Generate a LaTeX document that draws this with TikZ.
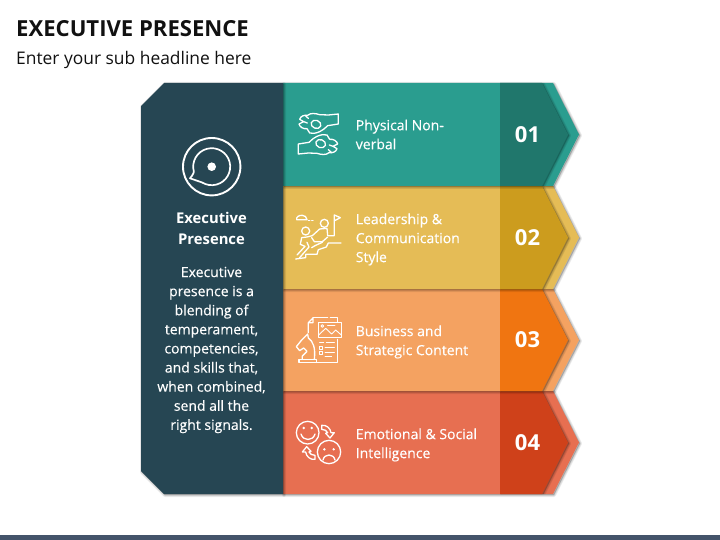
\documentclass[tikz,border=0pt]{standalone}
\usepackage{fontspec}
\setmainfont{Open Sans}
\newfontfamily\semib[FakeBold=0.3]{Open Sans}
\definecolor{panelc}{HTML}{264653}
\definecolor{tealL}{HTML}{2A9D8F}\definecolor{tealD}{HTML}{20776C}
\definecolor{yelL}{HTML}{E5BC56}\definecolor{yelD}{HTML}{CC9C1E}
\definecolor{oraL}{HTML}{F4A261}\definecolor{oraD}{HTML}{F07511}
\definecolor{redL}{HTML}{E76F51}\definecolor{redD}{HTML}{CF411A}
\definecolor{barc}{HTML}{44546A}
\definecolor{titlec}{HTML}{111111}
\tikzset{
  lbl/.style={text=white,anchor=west,align=left,inner sep=0pt,font=\fontsize{14}{19}\semib\selectfont},
  numlbl/.style={text=white,inner sep=0pt,font=\fontsize{22}{24}\bfseries\selectfont},
  paneltxt/.style={text=white,align=center,inner sep=0pt,font=\fontsize{14}{19.1}\semib\selectfont},
  panelhead/.style={text=white,align=center,inner sep=0pt,font=\fontsize{14.8}{21}\bfseries\selectfont},
  ico/.style={draw=white,line width=1.3pt,line join=round,line cap=round},
  thinico/.style={draw=white,line width=0.9pt,line join=round,line cap=round}
}
\newcommand\softshadow[1]{\foreach \w in {4,2.6,1.2}{\draw[black,draw opacity=.07,fill=black,fill opacity=.07,line width=\w pt,line join=round,shift={(1,1)}] #1;}}
\newcommand\rowband[6]{%
  \def\outerp{(283,#1) -- (553,#1) -- (579,{(#1+#2)/2}) -- (553,#2) -- (283,#2) -- cycle}%
  \def\innerp{(500,#1) -- (542,#1) -- (568,{(#1+#2)/2}) -- (542,#2) -- (500,#2) -- cycle}%
  \softshadow{\outerp}
  \fill[#3] \outerp;
  \begin{scope}
    \clip \outerp;
    \clip (500,#1) rectangle (600,#2);
    \softshadow{\innerp}
  \end{scope}
  \fill[#4] \innerp;
  \node[numlbl] (num#6) at (527.5,{(#1+#2)/2}) {#5};
}
\newcommand\handicon{%
  (160,42) -- (160,72) -- (128,77) .. controls (118,86) and (112,92) .. (104,95) .. controls (92,100) and (82,102) .. (74,99) -- (66,86)
  .. controls (54,88) and (44,80) .. (42,72) -- (56,65) -- (44,58) .. controls (46,48) and (60,44) .. (68,46)
  .. controls (76,38) and (92,40) .. (104,44) -- (130,45) -- cycle}
\begin{document}
\begin{tikzpicture}[x=1pt,y=-1pt]
\useasboundingbox (0,0) rectangle (720,540);
\fill[white] (0,0) rectangle (720,540);
\fill[barc] (0,535) rectangle (720,540);
\node[anchor=west,inner sep=0pt,text=titlec,font=\fontsize{22.1}{24}\bfseries\selectfont] (title) at (16,28.7) {EXECUTIVE PRESENCE};
\node[anchor=west,inner sep=0pt,text=titlec,font=\fontsize{17.4}{20}\selectfont] (sub) at (16,60) {Enter your sub headline here};
% rows, bottom one first
\rowband{391}{494}{redL}{redD}{04}{d}
\rowband{289}{391}{oraL}{oraD}{03}{c}
\rowband{186}{289}{yelL}{yelD}{02}{b}
\rowband{83}{186}{tealL}{tealD}{01}{a}
% panel
\def\panelp{(164,83) -- (283,83) -- (283,494) -- (164,494) -- (141,471) -- (141,106) -- cycle}
\softshadow{\panelp}
\fill[panelc] \panelp;
% row labels
\node[lbl] (la) at (355.6,134.5) {Physical Non-\\verbal};
\node[lbl] (lb) at (355.6,239.5) {Leadership \&\\Communication\\Style};
\node[lbl] (lc) at (355.6,342) {Business and\\Strategic Content};
\node[lbl] (ld) at (355.6,445) {Emotional \& Social\\Intelligence};
% panel text
\node[panelhead] (ph) at (211.5,228) {Executive\\Presence};
\node[paneltxt] (pt) at (211.5,350) {Executive\\presence is a\\blending of\\temperament,\\competencies,\\and skills that,\\when combined,\\send all the\\right signals.};
% panel icon
\coordinate (pc) at (211.7,166.7);
\draw[white,line width=1.9pt] (pc) circle[radius=28.7];
\fill[white] (pc) circle[radius=4.3];
\draw[white,line width=1.7pt,line join=round] (pc) ++(165:18.5) arc[start angle=165,end angle=482,radius=18.5] -- (190,178.3) .. controls (193,175) and (194,172) .. (193.8,171.5);
% icon 1: hands
\begin{scope}[shift={(285,100)},scale=1/3]
  \draw[ico] \handicon;
  \draw[ico] (60,46) -- (70,55);
  \draw[ico] (56,65) -- (67,69);
  \draw[ico,rotate around={-20:(93,73)}] (93,73) ellipse[x radius=15,y radius=12];
  \draw[ico,rotate around={180:(100,102)}] \handicon;
  \draw[ico] (140,158) -- (130,149);
  \draw[ico] (144,139) -- (133,135);
  \draw[ico,rotate around={160:(107,131)}] (107,131) ellipse[x radius=15,y radius=12];
\end{scope}
% icon 2: climbers
\begin{scope}[shift={(285,205)},scale=1/3]
  \draw[ico] (35,44) .. controls (33,36) and (42,30) .. (52,31) .. controls (60,31) and (64,36) .. (66,44) -- cycle;
  \draw[ico,dotted] (70,46) -- (88,46);
  \draw[ico] (148,90) -- (148,30) -- (166,38) -- (149,47);
  \draw[ico] (118,55) circle[radius=12];
  \draw[ico] (62,78) circle[radius=12];
  \draw[ico] (168,114) -- (130,114) -- (124,126) -- (100,134) -- (96,148) -- (62,148) -- (62,158) -- (32,162);
  \draw[ico] (148,92) -- (128,92) -- (126,70) -- (104,72) -- (82,92) -- (66,96) -- (50,98) -- (46,118) -- (60,124) -- (36,150);
  \draw[ico] (128,96) -- (112,110) -- (88,110) -- (80,98);
  \draw[ico] (44,158) -- (72,126) -- (66,112);
  \draw[ico] (80,128) -- (90,122) -- (112,112);
\end{scope}
% icon 3: knight and document
\begin{scope}[shift={(285,310)},scale=1/3]
  \draw[ico] (70,68) -- (70,38) -- (84,38) -- (84,24) -- (70,38);
  \draw[ico] (84,22) -- (128,22);
  \draw[ico] (136,22) -- (158,22) -- (158,36);
  \draw[ico] (158,88) -- (158,158) -- (94,158);
  \draw[ico,fill=oraL] (100,37) rectangle (170,82);
  \draw[thinico] (100,76) -- (122,55) -- (140,72) -- (152,60) -- (170,76);
  \draw[thinico] (112,48) circle[radius=4];
  \draw[thinico] (128,46) -- (150,46);
  \draw[thinico] (104,98) -- (116,98);\draw[thinico] (124,98) -- (148,98);
  \draw[thinico] (104,110) rectangle (112,118);\draw[thinico] (120,112) -- (148,112);
  \draw[thinico] (104,124) rectangle (112,132);\draw[thinico] (120,128) -- (148,128);
  \draw[thinico] (120,140) -- (140,140);
  \draw[ico] (42,148) rectangle (94,158);
  \draw[ico] (52,148) -- (52,138) -- (66,124) -- (56,114) -- (44,122) -- (34,110) -- (50,90) -- (68,72) -- (70,84) .. controls (84,94) and (92,112) .. (88,148);
\end{scope}
% icon 4: faces
\begin{scope}[shift={(285,410)},scale=1/3]
  \draw[ico] (68,68) circle[radius=34];
  \fill[white] (56,54) circle[radius=4];
  \fill[white] (80,54) circle[radius=4];
  \draw[ico] (48,72) .. controls (54,94) and (84,94) .. (90,72);
  \draw[ico] (132,126) circle[radius=35];
  \fill[white] (118,118) circle[radius=4];
  \fill[white] (146,118) circle[radius=4];
  \draw[ico] (114,150) .. controls (118,130) and (146,130) .. (150,150);
  \draw[ico] (110,46) .. controls (124,44) and (136,54) .. (138,68) -- (148,68) -- (135,84) -- (122,70) -- (128,68) .. controls (126,62) and (118,58) .. (110,58) -- cycle;
  \draw[ico,rotate around={180:(100,97)}] (110,46) .. controls (124,44) and (136,54) .. (138,68) -- (148,68) -- (135,84) -- (122,70) -- (128,68) .. controls (126,62) and (118,58) .. (110,58) -- cycle;
\end{scope}
\end{tikzpicture}
\end{document}
